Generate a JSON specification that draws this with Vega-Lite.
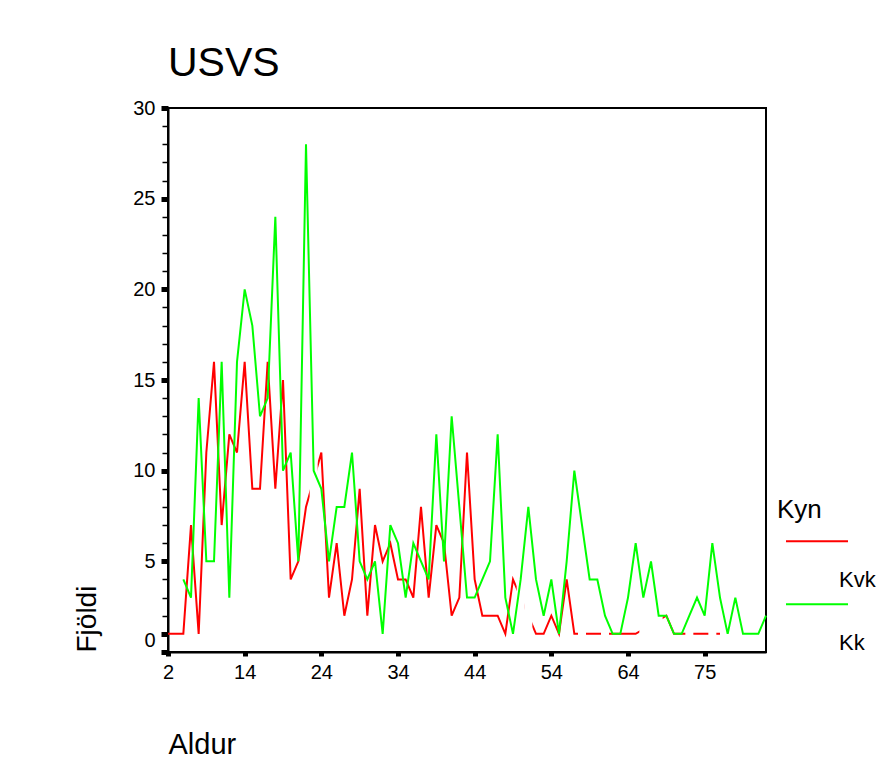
{
  "$schema": "https://vega.github.io/schema/vega-lite/v6.json",
  "width": 598,
  "height": 544,
  "autosize": {"type": "none"},
  "padding": {"left": 168, "top": 108, "right": 121, "bottom": 130},
  "background": "white",
  "title": {"text": "USVS", "anchor": "start", "frame": "group", "fontSize": 41, "fontWeight": "normal", "font": "Liberation Sans", "color": "black", "baseline": "alphabetic", "offset": 33, "dy": 52},
  "data": {"values": [
    {"age": 2, "Kvk": 1, "Kk": null},
    {"age": 5, "Kvk": 1, "Kk": null},
    {"age": 6, "Kvk": 1, "Kk": 4},
    {"age": 7, "Kvk": 7, "Kk": 3},
    {"age": 8, "Kvk": 1, "Kk": 14},
    {"age": 9, "Kvk": 11, "Kk": 5},
    {"age": 10, "Kvk": 16, "Kk": 5},
    {"age": 11, "Kvk": 7, "Kk": 16},
    {"age": 12, "Kvk": 12, "Kk": 3},
    {"age": 13, "Kvk": 11, "Kk": 16},
    {"age": 14, "Kvk": 16, "Kk": 20},
    {"age": 15, "Kvk": 9, "Kk": 18},
    {"age": 16, "Kvk": 9, "Kk": 13},
    {"age": 17, "Kvk": 16, "Kk": 14},
    {"age": 18, "Kvk": 9, "Kk": 24},
    {"age": 19, "Kvk": 15, "Kk": 10},
    {"age": 20, "Kvk": 4, "Kk": 11},
    {"age": 21, "Kvk": 5, "Kk": 5},
    {"age": 22, "Kvk": 8, "Kk": 28},
    {"age": 23, "Kvk": null, "Kk": 10},
    {"age": 24, "Kvk": 11, "Kk": 9},
    {"age": 25, "Kvk": 3, "Kk": 5},
    {"age": 26, "Kvk": 6, "Kk": 8},
    {"age": 27, "Kvk": 2, "Kk": 8},
    {"age": 28, "Kvk": 4, "Kk": 11},
    {"age": 29, "Kvk": 9, "Kk": 5},
    {"age": 30, "Kvk": 2, "Kk": 4},
    {"age": 31, "Kvk": 7, "Kk": 5},
    {"age": 32, "Kvk": 5, "Kk": 1},
    {"age": 33, "Kvk": 6, "Kk": 7},
    {"age": 34, "Kvk": 4, "Kk": 6},
    {"age": 35, "Kvk": 4, "Kk": 3},
    {"age": 36, "Kvk": 3, "Kk": 6},
    {"age": 37, "Kvk": 8, "Kk": 5},
    {"age": 38, "Kvk": 3, "Kk": 4},
    {"age": 39, "Kvk": 7, "Kk": 12},
    {"age": 40, "Kvk": 6, "Kk": 5},
    {"age": 41, "Kvk": 2, "Kk": 13},
    {"age": 42, "Kvk": 3, "Kk": 8},
    {"age": 43, "Kvk": 11, "Kk": 3},
    {"age": 44, "Kvk": 4, "Kk": 3},
    {"age": 45, "Kvk": 2, "Kk": 4},
    {"age": 46, "Kvk": 2, "Kk": 5},
    {"age": 47, "Kvk": 2, "Kk": 12},
    {"age": 48, "Kvk": 1, "Kk": 3},
    {"age": 49, "Kvk": 4, "Kk": 1},
    {"age": 50, "Kvk": null, "Kk": 4},
    {"age": 51, "Kvk": null, "Kk": 8},
    {"age": 52, "Kvk": 1, "Kk": 4},
    {"age": 53, "Kvk": 1, "Kk": 2},
    {"age": 54, "Kvk": 2, "Kk": 4},
    {"age": 55, "Kvk": 1, "Kk": 1},
    {"age": 56, "Kvk": 4, "Kk": 5},
    {"age": 57, "Kvk": 1, "Kk": 10},
    {"age": 58, "Kvk": null, "Kk": 7},
    {"age": 59, "Kvk": 1, "Kk": 4},
    {"age": 60, "Kvk": 1, "Kk": 4},
    {"age": 61, "Kvk": null, "Kk": 2},
    {"age": 62, "Kvk": 1, "Kk": 1},
    {"age": 63, "Kvk": 1, "Kk": 1},
    {"age": 64, "Kvk": 1, "Kk": 3},
    {"age": 65, "Kvk": 1, "Kk": 6},
    {"age": 66, "Kvk": null, "Kk": 3},
    {"age": 67, "Kvk": null, "Kk": 5},
    {"age": 68, "Kvk": null, "Kk": 2},
    {"age": 69, "Kvk": 2, "Kk": 2},
    {"age": 70, "Kvk": 1, "Kk": 1},
    {"age": 71, "Kvk": 1, "Kk": 1},
    {"age": 72, "Kvk": null, "Kk": 2},
    {"age": 73, "Kvk": 1, "Kk": 3},
    {"age": 75, "Kvk": 1, "Kk": 2},
    {"age": 76, "Kvk": null, "Kk": 6},
    {"age": 77, "Kvk": 1, "Kk": 3},
    {"age": 78, "Kvk": null, "Kk": 1},
    {"age": 79, "Kvk": null, "Kk": 3},
    {"age": 80, "Kvk": null, "Kk": 1},
    {"age": 81, "Kvk": null, "Kk": 1},
    {"age": 82, "Kvk": null, "Kk": 1},
    {"age": 83, "Kvk": null, "Kk": 2}
  ]},
  "encoding": {
    "x": {
      "field": "age", "type": "ordinal",
      "scale": {"type": "point", "padding": 0},
      "axis": {
        "title": "Aldur", "values": [2, 14, 24, 34, 44, 54, 64, 75],
        "labelAngle": 0, "labelFontSize": 20, "labelColor": "black", "labelPadding": 6,
        "tickSize": 4, "tickWidth": 5, "tickColor": "black",
        "domainColor": "black", "domainWidth": 2, "grid": false,
        "titleFontSize": 29, "titleFontWeight": "normal", "titleColor": "black",
        "titleAnchor": "start", "titleAlign": "left", "titleBaseline": "alphabetic",
        "titleX": 0, "titleY": 101
      }
    }
  },
  "resolve": {"axis": {"y": "independent"}},
  "layer": [
    {
      "transform": [
        {"fold": ["Kvk", "Kk"], "as": ["Kyn", "n"]},
        {"filter": "datum.Kyn == 'Kvk' && isValid(datum.n)"}
      ],
      "mark": {"type": "line", "strokeWidth": 2},
      "encoding": {
        "y": {
          "field": "n", "type": "quantitative",
          "scale": {"domain": [0, 30], "nice": false, "zero": false},
          "axis": {
            "orient": "left",
            "title": "Fjöldi",
            "values": [0,1,2,3,4,5,6,7,8,9,10,11,12,13,14,15,16,17,18,19,20,21,22,23,24,25,26,27,28,29,30],
            "labelExpr": "datum.value == 1 ? '0' : (datum.value > 0 && datum.value % 5 == 0 ? datum.label : '')",
            "labelOverlap": false, "labelFontSize": 20, "labelColor": "black", "labelPadding": 6,
            "labelOffset": {"condition": {"test": "datum.value == 1", "value": 7}, "value": 0},
            "tickSize": {"condition": {"test": "datum.value <= 1 || datum.value % 5 == 0", "value": 7}, "value": 6},
            "tickWidth": {"condition": {"test": "datum.value <= 1 || datum.value % 5 == 0", "value": 5}, "value": 1.5},
            "tickColor": "black", "domainColor": "black", "domainWidth": 2, "grid": false,
            "titleFontSize": 28, "titleFontWeight": "normal", "titleColor": "black",
            "titleAngle": -90, "titleAlign": "left", "titleBaseline": "alphabetic",
            "titleX": -73, "titleY": 544
          }
        },
        "color": {
          "field": "Kyn", "type": "nominal",
          "scale": {"domain": ["Kvk", "Kk"], "range": ["#ff0000", "#00ff00"]},
          "legend": {
            "orient": "none", "legendX": 609, "legendY": 389, "padding": 0,
            "title": "Kyn", "titleFontSize": 26, "titleFontWeight": "normal", "titleColor": "black", "titlePadding": 25,
            "labelFontSize": 22, "labelColor": "black",
            "symbolType": "M-1,-1.25H1", "symbolSize": 3844, "symbolStrokeWidth": 2, "symbolOffset": 8,
            "labelOffset": -10, "labelBaseline": "middle",
            "rowPadding": 9
          }
        }
      }
    },
    {
      "transform": [{"filter": "!isValid(datum.Kvk) && datum.age > 2 && datum.age < 78"}],
      "mark": {"type": "rule", "stroke": "#ffffff", "strokeWidth": 8},
      "encoding": {
        "y": {"datum": 0.3, "type": "quantitative", "axis": null},
        "y2": {"datum": 29.7}
      }
    },
    {
      "transform": [
        {"fold": ["Kvk", "Kk"], "as": ["Kyn", "n"]},
        {"filter": "datum.Kyn == 'Kk' && isValid(datum.n)"}
      ],
      "mark": {"type": "line", "strokeWidth": 2},
      "encoding": {
        "y": {"field": "n", "type": "quantitative", "axis": null},
        "color": {"field": "Kyn", "type": "nominal"}
      }
    }
  ],
  "config": {
    "font": "Liberation Sans",
    "view": {"stroke": "black", "strokeWidth": 2},
    "axis": {"labelFont": "Liberation Sans", "titleFont": "Liberation Sans"},
    "legend": {"labelFont": "Liberation Sans", "titleFont": "Liberation Sans"}
  }
}
